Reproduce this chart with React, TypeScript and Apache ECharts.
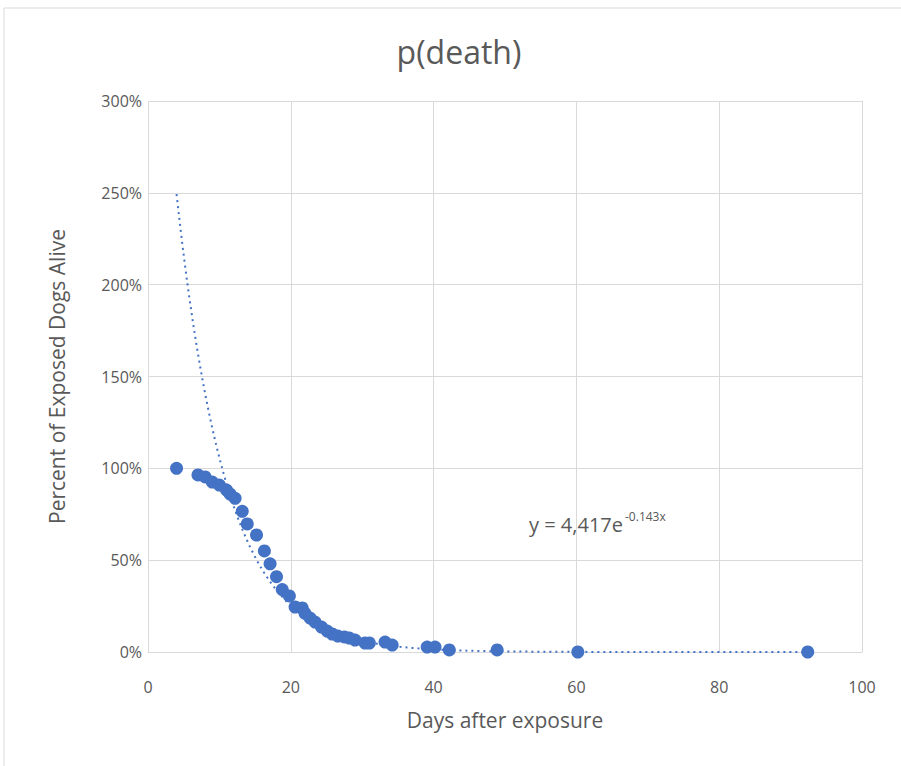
import React, { useEffect, useRef } from "react";
import * as echarts from "echarts";

// Observed data: days after exposure and percent of exposed dogs alive
const days: number[] = [4, 7, 8, 9, 10, 11, 11.5, 12.2, 13.2, 13.9, 15.2, 16.3, 17.1, 18, 18.8, 19.8, 20.6, 21.6, 22, 22.7, 23.4, 24.3, 25.1, 25.8, 26.6, 27.5, 28.2, 29, 30.4, 31, 33.2, 34.2, 39.1, 40.2, 42.2, 48.9, 60.2, 92.4];
const percentAlive: number[] = [100, 96.4, 95.3, 92.5, 90.9, 88.2, 86, 83.7, 76.6, 69.7, 63.7, 55, 48, 41, 34, 30.5, 24.5, 24, 21, 18.5, 16.3, 13.6, 11.4, 9.8, 8.7, 8.2, 7.6, 6.5, 4.9, 4.9, 5.4, 3.8, 2.7, 2.7, 1.1, 1.1, 0, 0];

// Exponential trendline coefficients as stated on the chart
const trendA = 4.417;
const trendB = -0.143;
const trendFrom = 4;
const trendTo = 92;

const yTicks: number[] = [0, 50, 100, 150, 200, 250, 300];
const xTicks: number[] = [0, 20, 40, 60, 80, 100];

const TITLE = "p(death)";
const X_NAME = "Days after exposure";
const Y_NAME = "Percent of Exposed Dogs Alive";
const EQ_MAIN = "y = 4,417e";
const EQ_SUP = "-0.143x";

export default function App() {
  const ref = useRef<HTMLDivElement>(null);
  useEffect(() => {
    if (!ref.current) return;
    const chart = echarts.init(ref.current, undefined, { renderer: "svg" });
    const scatter = days.map((d, i) => [d, percentAlive[i]]);
    const trend: number[][] = [];
    for (let x = trendFrom; x <= trendTo + 1e-9; x += 0.25) {
      trend.push([x, trendA * Math.exp(trendB * x) * 100]);
    }
    const font = "'Open Sans', 'Noto Sans', sans-serif";
    const grey = "#595959";
    chart.setOption({
      animation: false,
      backgroundColor: "#ffffff",
      textStyle: { fontFamily: font },
      title: {
        text: TITLE,
        left: 454,
        top: 30,
        textAlign: "center",
        textStyle: { fontFamily: font, fontSize: 32, fontWeight: "normal", color: grey },
      },
      grid: { left: 148, right: 39, top: 101, bottom: 114, containLabel: false },
      xAxis: {
        type: "value",
        min: xTicks[0],
        max: xTicks[xTicks.length - 1],
        interval: 20,
        name: X_NAME,
        nameLocation: "middle",
        nameGap: 57,
        nameTextStyle: { fontSize: 21, color: grey, fontFamily: font },
        axisLine: { show: true, lineStyle: { color: "#d9d9d9", width: 1 } },
        axisTick: { show: false },
        axisLabel: { fontSize: 16, color: grey, margin: 27, fontFamily: font },
        splitLine: { show: true, lineStyle: { color: "#d9d9d9", width: 1 } },
      },
      yAxis: {
        type: "value",
        min: yTicks[0],
        max: yTicks[yTicks.length - 1],
        interval: 50,
        name: Y_NAME,
        nameLocation: "middle",
        nameGap: 81,
        nameRotate: 90,
        nameTextStyle: { fontSize: 21, color: grey, fontFamily: font },
        axisLine: { show: false },
        axisTick: { show: false },
        axisLabel: { fontSize: 16, color: grey, margin: 6, formatter: "{value}%", fontFamily: font },
        splitLine: { show: true, lineStyle: { color: "#d9d9d9", width: 1 } },
      },
      series: [
        {
          type: "scatter",
          data: scatter,
          symbol: "circle",
          symbolSize: 13,
          itemStyle: { color: "#4472C4", opacity: 1 },
          z: 2,
        },
        {
          type: "line",
          data: trend,
          showSymbol: false,
          symbol: "none",
          smooth: false,
          lineStyle: { color: "#4472C4", width: 2, type: [2, 4] },
          z: 3,
        },
      ],
      graphic: [
        {
          type: "rect",
          shape: { x: 4, y: 8, width: 1000, height: 1000 },
          style: { fill: "none", stroke: "#d9d9d9", lineWidth: 1 },
          silent: true,
          z: -10,
        },
        {
          type: "text",
          x: 529,
          y: 524,
          style: { text: EQ_MAIN, font: `20px ${font}`, fill: grey, verticalAlign: "middle" },
        },
        {
          type: "text",
          x: 625,
          y: 516,
          style: { text: EQ_SUP, font: `12px ${font}`, fill: grey, verticalAlign: "middle" },
        },
      ],
    });
    return () => chart.dispose();
  }, []);
  return (
    <div
      ref={ref}
      style={{ position: "fixed", left: 0, top: 0, width: 901, height: 766 }}
    />
  );
}
